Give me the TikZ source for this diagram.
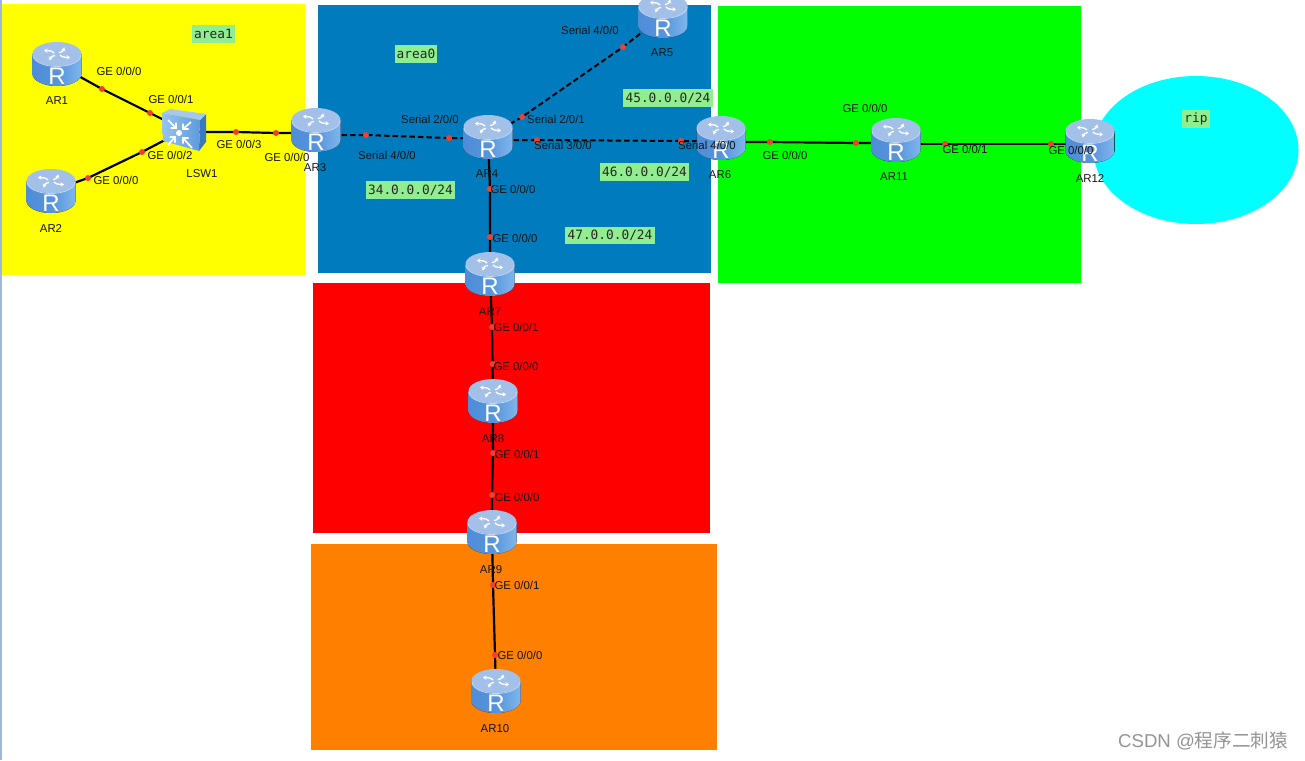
\documentclass[tikz,border=0pt]{standalone}
\usepackage{fontspec}
\setmainfont{Liberation Sans}
\newfontfamily\labelmono{DejaVu Sans Mono}
\newfontfamily\cjkwm{Noto Sans CJK SC}
\usetikzlibrary{arrows.meta,shapes.geometric}
\pgfdeclarelayer{areas}
\pgfdeclarelayer{wires}
\pgfsetlayers{areas,wires,main}
\definecolor{areablue}{RGB}{0,124,190}
\definecolor{areayellow}{RGB}{255,255,0}
\definecolor{areagreen}{RGB}{0,255,0}
\definecolor{areared}{RGB}{255,0,0}
\definecolor{areaorange}{RGB}{255,128,0}
\definecolor{areacyan}{RGB}{0,255,255}
\definecolor{edgeblue}{RGB}{160,184,214}
\definecolor{netgreen}{RGB}{144,238,144}
\definecolor{dotred}{RGB}{242,64,46}
\definecolor{rtop}{RGB}{163,193,232}
\definecolor{rdark}{RGB}{79,141,216}
\definecolor{rlight}{RGB}{127,182,236}
\definecolor{swtop}{RGB}{165,200,235}
\definecolor{swside}{RGB}{60,120,190}
\definecolor{swa}{RGB}{150,195,240}
\definecolor{swb}{RGB}{95,155,220}
\tikzset{
  x=1pt,y=-1pt,
  wire/.style={draw=black,line width=2.2pt},
  serialwire/.style={draw=black,line width=2pt,dash pattern=on 5.5pt off 3pt},
  portdot/.style={circle,fill=dotred,draw=none,minimum size=6pt,inner sep=0pt},
  rnode/.style={rectangle,draw=none,minimum width=49pt,minimum height=44pt,inner sep=0pt},
  rtxt/.style={font=\fontsize{24}{26}\selectfont,text=white,inner sep=0pt},
  plain/.style={font=\fontsize{11.4}{13}\selectfont,text=black!92,inner sep=0pt},
  netlabel/.style={fill=netgreen,font=\labelmono\fontsize{12.8}{14}\selectfont,text=black!85,
    inner xsep=2.2pt,inner ysep=0pt,minimum height=17.5pt},
}
\newcommand{\rtr}[3]{%
  \node[rnode] (#1) at (#2,#3) {};
  \begin{scope}[shift={(#2,#3)}]
    \fill[left color=rdark,right color=rlight,middle color=rdark!85!rlight]
      (-24.5,-10) -- (-24.5,10) arc[start angle=180,end angle=0,x radius=24.5,y radius=12] -- (24.5,-10) -- cycle;
    \fill[rtop] (0,-10) ellipse[x radius=24.5,y radius=12];
    \draw[white!35!rtop,line width=.8pt] (-24,-9) arc[start angle=180,end angle=0,x radius=24,y radius=11.5];
    \begin{scope}[shift={(0,-10)},yscale=.5]
      \foreach \a in {35,125,215,305}{
        \draw[white,line width=1.3pt,-{Stealth[length=3.6pt,width=4.4pt]}]
          (\a:3.5) .. controls (\a+14:8) .. (\a-6:15);
      }
    \end{scope}
    \node[rtxt] (#1R) at (0,12.5) {R};
  \end{scope}
}
\newcommand{\lbl}[4]{\node[plain] (#1) at (#2,#3) {#4};}
\newcommand{\netl}[4]{\node[netlabel] (#1) at (#2,#3) {#4};}
\newcommand{\wdot}[3]{\node[portdot] (#1) at (#2,#3) {};}
\begin{document}
\begin{tikzpicture}
\useasboundingbox (0,0) rectangle (1305,760);
\begin{pgfonlayer}{areas}
  \fill[white] (0,0) rectangle (1305,760);
  \fill[edgeblue] (0,0) rectangle (2,760);
  \fill[areayellow] (2,4) rectangle (305,275);
  \fill[areablue] (318,5) rectangle (711,273);
  \fill[areagreen] (718,6) rectangle (1081,283);
  \fill[areared] (313,283) rectangle (710,533);
  \fill[areaorange] (311,544) rectangle (717,750);
  \fill[areacyan] (1196,150) ellipse[x radius=102.5,y radius=74];
\end{pgfonlayer}

% routers
\rtr{ar1}{57}{64}
\rtr{ar2}{51}{191}
\rtr{ar3}{316}{130}
\rtr{ar4}{488}{137}
\begin{scope}
  \clip (600,0) rectangle (720,60);
  \rtr{ar5}{663}{16}
\end{scope}
\rtr{ar6}{721}{138}
\rtr{ar7}{490}{274}
\rtr{ar8}{493}{401}
\rtr{ar9}{492}{532}
\rtr{ar10}{496}{691}
\rtr{ar11}{896}{140}
\rtr{ar12}{1090}{141}

% switch
\node[rectangle,draw=none,minimum width=45pt,minimum height=42pt,inner sep=0pt] (lsw) at (184,130) {};
\fill[swside] (200,120) -- (206,114) -- (206,142) -- (199,151) -- cycle;
\fill[swtop] (162,113) -- (170,109) -- (206,114) -- (200,120) -- cycle;
\shade[left color=swa,right color=swb]
  (162,113) -- (200,120) -- (199,151) -- (163,141) -- cycle;
\fill[white] (179,133) circle[radius=3];
\begin{scope}[white,line width=1.7pt,line join=miter]
  \draw (168,120) -- (176,128) (176,122.5) -- (176,128) -- (170.5,128);
  \draw (191,122) -- (183,129) (183,123.5) -- (183,129) -- (188.5,129);
  \draw (168,145) -- (175,137) (169.5,137) -- (175,137) -- (175,142.5);
  \draw (192,148) -- (183,138) (188.5,138) -- (183,138) -- (183,143.5);
\end{scope}

% port dots
\wdot{d1a}{102}{89}
\wdot{d1b}{150}{113}
\wdot{d2a}{88}{178}
\wdot{d2b}{142}{152}
\wdot{d3a}{236}{132}
\wdot{d3b}{276}{133}
\wdot{d4a}{366}{135}
\wdot{d4b}{449}{138}
\wdot{d5a}{522}{117}
\wdot{d5b}{623}{47}
\wdot{d6a}{537}{140}
\wdot{d6b}{681}{141}
\wdot{d7a}{490}{189}
\wdot{d7b}{490}{237}
\wdot{d8a}{492}{327}
\wdot{d8b}{492.5}{364}
\wdot{d9a}{493}{453}
\wdot{d9b}{492}{495}
\wdot{d10a}{493}{585}
\wdot{d10b}{495}{655}
\wdot{d11a}{770}{142}
\wdot{d11b}{856}{143}
\wdot{d12a}{945}{144}
\wdot{d12b}{1051}{144}

% connectors
\begin{pgfonlayer}{wires}
  \draw[wire] (ar1.center) -- (d1a.center) -- (d1b.center) -- (lsw.center);
  \draw[wire] (ar2.center) -- (d2a.center) -- (d2b.center) -- (lsw.center);
  \draw[wire] (d3a.center -| lsw.center) -- (d3a.center) -- (d3b.center) -- (d3b.center -| ar3.center);
  \draw[serialwire] (d4a.center -| ar3.center) -- (d4a.center) -- (d4b.center) -- (d4b.center -| ar4.center);
  \draw[serialwire] (ar4.center) -- (d5a.center) -- (d5b.center) -- (ar5.center);
  \draw[serialwire] (d6a.center -| ar4.center) -- (d6a.center) -- (d6b.center) -- (d6b.center -| ar6.center);
  \draw[wire] (ar4.center) -- (d7a.center) -- (d7b.center) -- (ar7.center);
  \draw[wire] (ar7.center) -- (d8a.center) -- (d8b.center) -- (ar8.center);
  \draw[wire] (ar8.center) -- (d9a.center) -- (d9b.center) -- (ar9.center);
  \draw[wire] (ar9.center) -- (d10a.center) -- (d10b.center) -- (ar10.center);
  \draw[wire] (d11a.center -| ar6.center) -- (d11a.center) -- (d11b.center) -- (d11b.center -| ar11.center);
  \draw[wire] (d12a.center -| ar11.center) -- (d12a.center) -- (d12b.center) -- (d12b.center -| ar12.center);
\end{pgfonlayer}

% device labels
\lbl{nar1}{57}{101}{AR1}
\lbl{nar2}{51}{229}{AR2}
\lbl{nlsw}{202}{174}{LSW1}
\lbl{nar3}{315}{168}{AR3}
\lbl{nar4}{487}{174}{AR4}
\lbl{nar5}{662}{53}{AR5}
\lbl{nar6}{720}{175}{AR6}
\lbl{nar7}{490}{312}{AR7}
\lbl{nar8}{493}{439}{AR8}
\lbl{nar9}{491}{570}{AR9}
\lbl{nar10}{495}{729}{AR10}
\lbl{nar11}{894}{177}{AR11}
\lbl{nar12}{1090}{179}{AR12}

% port labels
\lbl{p1}{119}{71}{GE 0/0/0}
\lbl{p2}{171}{99}{GE 0/0/1}
\lbl{p3}{170}{155}{GE 0/0/2}
\lbl{p4}{116}{180}{GE 0/0/0}
\lbl{p5}{239}{144}{GE 0/0/3}
\lbl{p6}{287}{157}{GE 0/0/0}
\lbl{p7}{590}{30}{Serial 4/0/0}
\lbl{p8}{430}{119}{Serial 2/0/0}
\lbl{p9}{556}{119}{Serial 2/0/1}
\lbl{p10}{563}{145}{Serial 3/0/0}
\lbl{p11}{707}{145}{Serial 4/0/0}
\lbl{p12}{387}{155}{Serial 4/0/0}
\lbl{p13}{513}{189}{GE 0/0/0}
\lbl{p14}{515}{238}{GE 0/0/0}
\lbl{p15}{516}{327}{GE 0/0/1}
\lbl{p16}{516}{366}{GE 0/0/0}
\lbl{p17}{517}{454}{GE 0/0/1}
\lbl{p18}{517}{497}{GE 0/0/0}
\lbl{p19}{517}{585}{GE 0/0/1}
\lbl{p20}{520}{655}{GE 0/0/0}
\lbl{p21}{865}{108}{GE 0/0/0}
\lbl{p22}{785}{155}{GE 0/0/0}
\lbl{p23}{965}{149}{GE 0/0/1}
\lbl{p24}{1071}{150}{GE 0/0/0}

% network labels
\netl{a1}{213.5}{34}{area1}
\netl{a0}{416}{54}{area0}
\netl{n45}{668}{98}{45.0.0.0/24}
\netl{n46}{644.5}{172}{46.0.0.0/24}
\netl{n34}{410.5}{190}{34.0.0.0/24}
\netl{n47}{610}{235.5}{47.0.0.0/24}
\netl{rp}{1196}{119}{rip}

% watermark
\node[anchor=west,inner sep=0pt,text=black!42,font=\fontsize{18.6}{20}\selectfont] (wm) at (1118,741) {CSDN @{\cjkwm 程序二刺猿}};
\end{tikzpicture}
\end{document}
